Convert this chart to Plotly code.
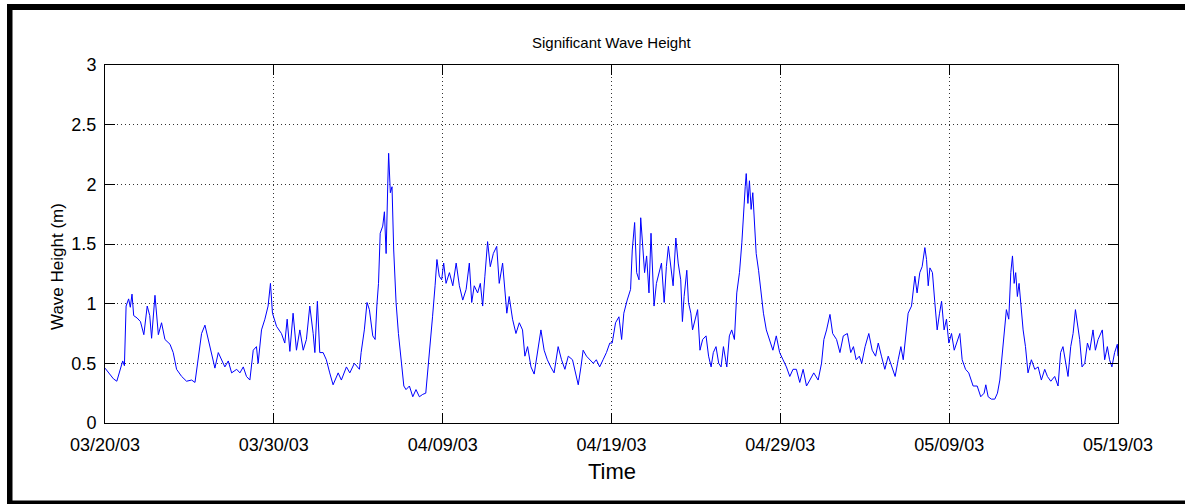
import pandas as pd
import plotly.graph_objects as go

# Significant wave height record, days elapsed since 2003-03-20 00:00 and height in metres
start_date = "2003-03-20"
days = [
    0.0, 0.1, 0.3, 0.5, 0.7, 0.9, 1.05, 1.15, 1.25, 1.4, 1.5, 1.6, 1.7, 1.9, 2.1, 2.3, 2.5, 2.65, 2.76, 2.96,
    3.16, 3.35, 3.55, 3.85, 4.04, 4.24, 4.54, 4.83, 5.13, 5.33, 5.52, 5.72, 5.92, 6.11, 6.31, 6.51, 6.71, 6.9,
    7.1, 7.3, 7.5, 7.8, 7.99, 8.19, 8.38, 8.58, 8.78, 8.97, 9.07, 9.27, 9.47, 9.66, 9.8, 9.92, 10.16, 10.45,
    10.65, 10.79, 10.95, 11.14, 11.34, 11.54, 11.74, 11.93, 12.13, 12.33, 12.43, 12.58, 12.72, 12.92, 13.11,
    13.31, 13.51, 13.81, 14.0, 14.3, 14.5,
    14.77, 15.07, 15.17, 15.36, 15.52, 15.66, 15.86, 16.0, 16.1, 16.2, 16.3, 16.45, 16.55, 16.65, 16.75, 16.8,
    16.9, 17.0, 17.1, 17.24, 17.38, 17.53, 17.7, 17.83, 18.03, 18.23, 18.42, 18.62, 18.82, 19.0, 19.15, 19.27,
    19.4, 19.55, 19.66, 19.8, 19.94, 20.06, 20.2, 20.4, 20.6, 20.8, 20.99, 21.19, 21.39, 21.58, 21.72, 21.87,
    22.07, 22.23, 22.37, 22.5, 22.66, 22.82, 23.0, 23.2, 23.35, 23.55, 23.65, 23.8, 23.94, 24.14, 24.34, 24.54,
    24.73, 24.87, 25.03, 25.23, 25.42, 25.62, 25.82, 26.01, 26.2, 26.4, 26.6, 26.84, 27.04, 27.24, 27.44,
    27.69, 27.89, 28.03, 28.19, 28.32, 28.52, 28.72, 28.92, 29.1, 29.3, 29.5, 29.7, 29.9,
    30.04, 30.24, 30.44, 30.6, 30.73, 30.93, 31.13, 31.23, 31.37, 31.49, 31.63, 31.73, 31.83, 31.96, 32.08,
    32.22, 32.34, 32.42, 32.52, 32.66, 32.82, 32.96, 33.12, 33.25, 33.37, 33.5, 33.65, 33.81, 33.95, 34.1,
    34.2, 34.3, 34.46, 34.56, 34.7, 34.8, 34.94, 35.1, 35.24, 35.4, 35.6, 35.75, 35.9, 36.03, 36.19, 36.35,
    36.49, 36.63, 36.83, 36.98, 37.12, 37.28, 37.42, 37.58, 37.72, 37.84, 37.92, 37.98, 38.08, 38.17, 38.27,
    38.37, 38.47, 38.57, 38.71, 38.87, 39.0, 39.17, 39.37, 39.56, 39.76, 39.96, 40.16, 40.36, 40.56, 40.75,
    40.95, 41.15, 41.35, 41.55, 41.75, 41.98, 42.24, 42.44, 42.58, 42.74, 42.94, 43.1, 43.33, 43.53, 43.73,
    43.97, 44.17, 44.33, 44.49, 44.68, 44.82, 45.02,
    45.24, 45.44, 45.64, 45.8, 45.99, 46.19, 46.39, 46.59, 46.8, 46.98, 47.14, 47.28, 47.42, 47.57, 47.77,
    47.97, 48.1, 48.26, 48.4, 48.56, 48.66, 48.76, 48.86, 49.01, 49.15, 49.29, 49.43, 49.55, 49.7, 49.84,
    49.98, 50.14, 50.3, 50.49, 50.63, 50.77, 50.97, 51.16, 51.42, 51.66, 51.87, 52.07, 52.17, 52.31, 52.5,
    52.7, 52.86, 53.0, 53.14, 53.25, 53.39, 53.53, 53.65, 53.75, 53.85, 53.94, 54.04, 54.14, 54.24, 54.38,
    54.52, 54.67, 54.87, 55.07, 55.27, 55.46, 55.66, 55.82, 56.02, 56.25, 56.45, 56.6, 56.74, 56.88, 57.04,
    57.2, 57.34, 57.48, 57.63, 57.73, 57.87, 58.03, 58.19, 58.33, 58.52, 58.66, 58.82, 58.98, 59.07, 59.21,
    59.37, 59.5, 59.64, 59.8, 59.96, 60.0,
]
wave_height = [
    0.46, 0.44, 0.40, 0.37, 0.35, 0.45, 0.52, 0.48, 0.98, 1.04, 0.97, 1.08, 0.90, 0.88, 0.85, 0.74, 0.98, 0.90, 0.71, 1.07,
    0.74, 0.84, 0.70, 0.66, 0.59, 0.45, 0.39, 0.35, 0.36, 0.34, 0.53, 0.75, 0.82, 0.70, 0.59, 0.46, 0.59, 0.53,
    0.47, 0.52, 0.42, 0.45, 0.42, 0.47, 0.39, 0.36, 0.61, 0.64, 0.50, 0.78, 0.87, 0.98, 1.17, 0.92, 0.81, 0.75,
    0.67, 0.87, 0.60, 0.92, 0.61, 0.78, 0.61, 0.70, 0.98, 0.75, 0.59, 1.02, 0.59, 0.59, 0.53,
    0.42, 0.32, 0.42, 0.36, 0.47, 0.42,
    0.50, 0.45, 0.59, 0.78, 1.01, 0.95, 0.73, 0.70, 0.98, 1.17, 1.59, 1.65, 1.77, 1.42, 2.01, 2.26,
    1.93, 1.98, 1.45, 1.01, 0.75, 0.56, 0.31, 0.28, 0.31, 0.22, 0.28, 0.22, 0.24, 0.25, 0.47, 0.70,
    0.89, 1.15, 1.37, 1.23, 1.20, 1.34, 1.17, 1.26, 1.15, 1.34, 1.15, 1.03, 1.12, 1.34, 1.01, 1.15,
    1.09, 1.17, 0.98, 1.23, 1.52, 1.31, 1.42, 1.48, 1.17, 1.34, 1.15, 0.92, 1.06, 0.87, 0.75, 0.84,
    0.78, 0.56, 0.64, 0.47, 0.41, 0.59, 0.78, 0.61, 0.53, 0.47, 0.42, 0.64, 0.53, 0.45, 0.56,
    0.53, 0.39, 0.32, 0.47, 0.61, 0.56, 0.53, 0.50, 0.53, 0.47, 0.53, 0.59, 0.67,
    0.67, 0.84, 0.89, 0.70, 0.92, 1.03, 1.12, 1.45, 1.68, 1.26, 1.20, 1.72, 1.54, 1.26, 1.40,
    1.09, 1.59, 1.31, 0.98, 1.17, 1.26, 1.34, 1.01, 1.31, 1.48, 1.31, 1.15, 1.55, 1.34, 1.20,
    0.85, 1.06, 1.28, 1.01, 0.92, 0.78, 0.87, 0.95, 0.61, 0.70, 0.73, 0.56, 0.47, 0.59, 0.64, 0.50,
    0.47, 0.64, 0.47, 0.73, 0.78, 0.70, 1.09, 1.26, 1.51, 1.84, 1.98, 2.09, 1.84, 2.03, 1.79,
    1.93, 1.68, 1.42, 1.28, 1.06, 0.92, 0.78, 0.70, 0.61, 0.73, 0.59, 0.53, 0.47, 0.39, 0.45,
    0.45, 0.34, 0.45, 0.31, 0.36, 0.42, 0.36, 0.50, 0.70, 0.78, 0.91, 0.75, 0.70, 0.59, 0.73,
    0.75, 0.59, 0.64, 0.53, 0.56, 0.50, 0.64,
    0.75, 0.61, 0.56, 0.67, 0.56, 0.45, 0.56, 0.47, 0.39, 0.53, 0.64, 0.53, 0.75, 0.92, 0.98,
    1.23, 1.09, 1.26, 1.31, 1.47, 1.37, 1.15, 1.30, 1.26, 1.01, 0.78, 0.92, 1.02, 0.78, 0.87,
    0.67, 0.75, 0.61, 0.70, 0.75, 0.53, 0.45, 0.42, 0.31, 0.31, 0.22, 0.25, 0.32, 0.22, 0.20,
    0.20, 0.25, 0.36, 0.56, 0.78, 0.95, 0.87, 1.26, 1.40, 1.17, 1.26, 1.06, 1.17, 0.98, 0.78,
    0.64, 0.42, 0.53, 0.45, 0.47, 0.36, 0.45, 0.39, 0.35, 0.39, 0.31, 0.59, 0.64, 0.53, 0.39,
    0.64, 0.75, 0.95, 0.78, 0.70, 0.47, 0.50, 0.67, 0.61, 0.78, 0.61, 0.70, 0.75, 0.78, 0.53,
    0.64, 0.53, 0.47, 0.59, 0.66, 0.56,
]

tick_dates = ["2003-03-20", "2003-03-30", "2003-04-09", "2003-04-19",
              "2003-04-29", "2003-05-09", "2003-05-19"]
tick_labels = ["03/20/03", "03/30/03", "04/09/03", "04/19/03",
               "04/29/03", "05/09/03", "05/19/03"]

times = pd.Timestamp(start_date) + pd.to_timedelta(days, unit="D")

W, H = 1185, 504
L, R, T, B = 105, 67, 65, 81
FONT = "Liberation Sans, Arial, sans-serif"

fig = go.Figure()
fig.add_trace(go.Scatter(
    x=times, y=wave_height, mode="lines",
    line=dict(color="#0000ff", width=1),
    showlegend=False, hoverinfo="x+y",
))

axis_common = dict(
    showline=True, linecolor="#000000", linewidth=1, mirror="ticks",
    ticks="inside", ticklen=10, tickwidth=1, tickcolor="#000000",
    showgrid=True, gridcolor="#333333", gridwidth=1, griddash="1px,3px",
    zeroline=False, tickfont=dict(family=FONT, size=18, color="#000000"),
)

fig.update_xaxes(
    type="date", range=[tick_dates[0], tick_dates[-1]],
    tickmode="array", tickvals=tick_dates, ticktext=tick_labels,
    ticklabelstandoff=5, **axis_common,
)
fig.update_yaxes(
    range=[0, 3], tickmode="linear", tick0=0, dtick=0.5,
    ticklabelstandoff=4, **axis_common,
)

# Paper coordinates from pixel positions
pw, ph = W - L - R, H - T - B
def px(x):
    return (x - L) / pw
def py(y):
    return (H - B - y) / ph

# Heavy frame around the figure (top, left, bottom)
frame = dict(type="rect", xref="paper", yref="paper", fillcolor="#000000", line=dict(width=0), layer="above")
fig.add_shape(x0=px(7), x1=px(W), y0=py(4), y1=py(10), **frame)
fig.add_shape(x0=px(7), x1=px(12.5), y0=py(4), y1=py(H), **frame)
fig.add_shape(x0=px(7), x1=px(W), y0=py(500.5), y1=py(H), **frame)

fig.add_annotation(text="Significant Wave Height", xref="paper", yref="paper",
                   x=0.5, y=py(42), showarrow=False, xanchor="center", yanchor="middle",
                   font=dict(family=FONT, size=15, color="#000000"))
fig.add_annotation(text="Time", xref="paper", yref="paper",
                   x=0.5, y=py(471), showarrow=False, xanchor="center", yanchor="middle",
                   font=dict(family=FONT, size=22, color="#000000"))
fig.add_annotation(text="Wave Height (m)", xref="paper", yref="paper",
                   x=px(57), y=py(267), showarrow=False, xanchor="center", yanchor="middle",
                   textangle=-90, font=dict(family=FONT, size=17, color="#000000"))

fig.update_layout(
    width=W, height=H, autosize=False,
    margin=dict(l=L, r=R, t=T, b=B, pad=0),
    paper_bgcolor="#ffffff", plot_bgcolor="#ffffff",
    showlegend=False,
)

fig.write_html("out.html")
